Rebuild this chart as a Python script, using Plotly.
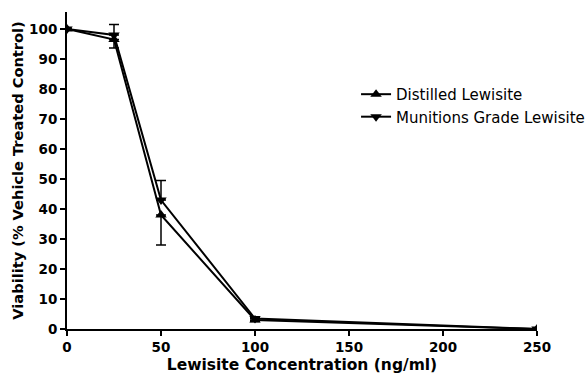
import plotly.graph_objects as go

conc = [0, 25, 50, 100, 250]
distilled = [100, 96.5, 38, 3, 0]
distilled_err_minus = [0, 2.8, 10, 0.5, 0]
distilled_err_plus = [0, 0, 0, 0, 0]
munitions = [100, 98, 43, 3.5, 0]
munitions_err_plus = [0, 3.5, 6.5, 0.5, 0]
munitions_err_minus = [0, 0, 0, 0, 0]

x_ticks = [0, 50, 100, 150, 200, 250]
y_ticks = [0, 10, 20, 30, 40, 50, 60, 70, 80, 90, 100]

FONT = "DejaVu Sans, Liberation Sans, Arial, sans-serif"

fig = go.Figure()
fig.add_trace(go.Scatter(
    x=conc, y=distilled, name="Distilled Lewisite", mode="lines+markers",
    line=dict(color="black", width=2),
    marker=dict(symbol="triangle-up", size=10, color="black"),
    error_y=dict(type="data", symmetric=False, array=distilled_err_plus,
                 arrayminus=distilled_err_minus, color="black", thickness=1.5, width=5),
))
fig.add_trace(go.Scatter(
    x=conc, y=munitions, name="Munitions Grade Lewisite", mode="lines+markers",
    line=dict(color="black", width=2),
    marker=dict(symbol="triangle-down", size=10, color="black"),
    error_y=dict(type="data", symmetric=False, array=munitions_err_plus,
                 arrayminus=munitions_err_minus, color="black", thickness=1.5, width=5),
))

# figure is slightly wider than the window so the legend (which touches the
# right edge in the reference) does not push the plot margins; overflow is hidden
fig.update_layout(
    width=615, height=386,
    margin=dict(l=67, r=78, t=12, b=57),
    paper_bgcolor="white", plot_bgcolor="white",
    font=dict(family=FONT, color="black"),
    showlegend=True,
    legend=dict(x=0.615, y=0.792, xanchor="left", yanchor="top",
                bgcolor="rgba(0,0,0,0)", font=dict(size=15, family=FONT),
                itemwidth=30, tracegroupgap=0),
)
fig.update_xaxes(
    range=[0, 250], tickvals=x_ticks, automargin=False,
    showgrid=False, zeroline=False, showline=True, linecolor="black", linewidth=2,
    ticks="outside", ticklen=5, tickwidth=2, tickcolor="black",
    tickfont=dict(size=13.5, family=FONT, weight="bold"),
    title=dict(text="Lewisite Concentration (ng/ml)",
               font=dict(size=15.5, family=FONT, weight="bold"), standoff=5),
)
fig.update_yaxes(
    range=[0, 105.67], tickvals=y_ticks, automargin=False,
    showgrid=False, zeroline=False, showline=True, linecolor="black", linewidth=2,
    ticks="outside", ticklen=5, tickwidth=2, tickcolor="black",
    ticklabelstandoff=0,
    tickfont=dict(size=13.5, family=FONT, weight="bold"),
    title=dict(text="Viability (% Vehicle Treated Control)",
               font=dict(size=14.6, family=FONT, weight="bold"), standoff=2),
)
fig.write_html(
    "out.html",
    config={"displayModeBar": False},
    post_script="document.body.style.margin='0';document.body.style.overflow='hidden';",
)
